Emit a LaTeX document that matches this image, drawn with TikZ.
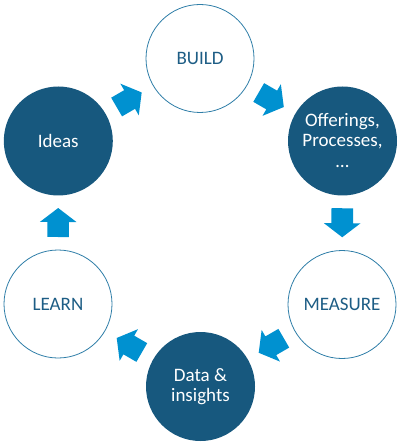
\documentclass[tikz,border=0pt]{standalone}
\usepackage{fontspec}
\setmainfont{Carlito}
\usetikzlibrary{calc}
\definecolor{darkc}{HTML}{17587E}
\definecolor{arrowc}{HTML}{0091D0}
\definecolor{linec}{HTML}{2F7EA8}
\definecolor{textc}{HTML}{1D5D85}
\begin{document}
\begin{tikzpicture}[x=1pt,y=1pt,
  lbl/.style={font=\fontsize{19}{20}\selectfont, align=center},
  dark/.style={lbl, circle, fill=darkc, minimum size=109pt, inner sep=0pt, text=white},
  light/.style={lbl, circle, draw=linec, line width=0.8pt, fill=white, minimum size=108pt, inner sep=0pt, text=textc},
  pics/barrow/.style={code={\fill[arrowc] (-14.5,-10.8) -- (0.5,-10.8) -- (0.5,-18.3) -- (14.5,0) -- (0.5,18.3) -- (0.5,10.8) -- (-14.5,10.8) -- cycle;}}
]
\useasboundingbox (0,0) rectangle (400,-443);
\node[light] (build) at (200,-58.5) {BUILD};
\node[dark]  (off)   at (342.5,-141) {Offerings,\\Processes,\\[1pt]…};
\node[light] (meas)  at (342,-304.5) {MEASURE};
\node[dark]  (data)  at (200.5,-386.5) {Data \&\\insights};
\node[light] (learn) at (58,-304) {LEARN};
\node[dark]  (ideas) at (58.3,-141) {Ideas};
\foreach \a/\b in {ideas/build, build/off, off/meas, meas/data, data/learn, learn/ideas}{
  \path let \p1=($(\b)-(\a)$), \n1={atan2(\y1,\x1)} in
    pic[rotate=\n1] at ($(\a)!0.5!(\b)$) {barrow};
}
\end{tikzpicture}
\end{document}
